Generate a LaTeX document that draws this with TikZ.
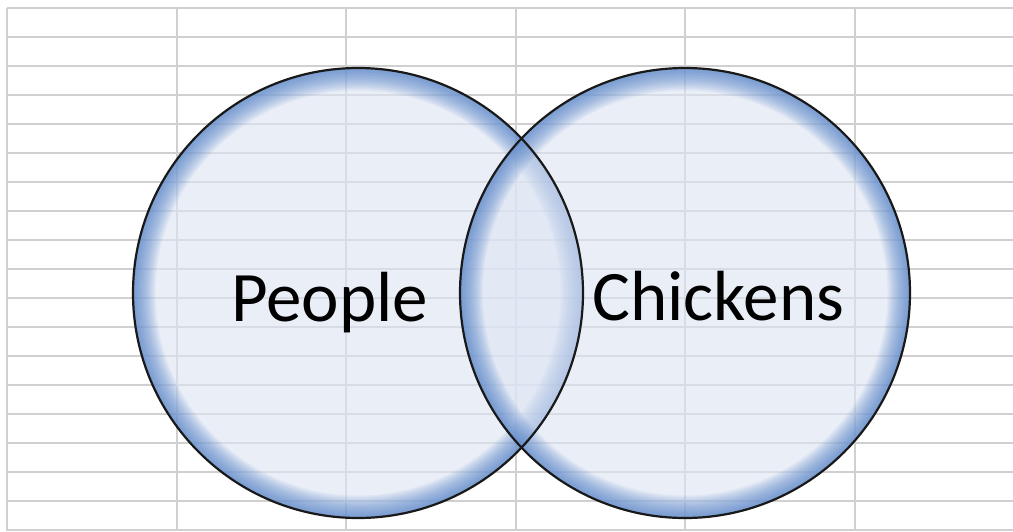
\documentclass[tikz,border=0pt]{standalone}
\usepackage{fontspec}
\setmainfont{Carlito}
\definecolor{gridgray}{HTML}{D0D0D0}
\definecolor{vfill}{HTML}{DDE4F3}
\definecolor{vglow}{HTML}{4A7CC6}
\tikzset{
  gridline/.style={draw=gridgray, line width=2pt},
  vennfill/.style={fill=vfill, fill opacity=0.6},
  vennedge/.style={draw=black!90, line width=2.2pt},
  vlabel/.style={inner sep=0pt, anchor=base west, font=\fontsize{71}{71}\selectfont}
}
\begin{document}
\begin{tikzpicture}[x=1pt,y=-1pt]
\useasboundingbox (0,0) rectangle (1013,531);
\fill[white] (0,0) rectangle (1013,531);
% grid
\foreach \k in {0,...,18} {\draw[gridline] (7,8+29*\k) -- (1013,8+29*\k);}
\foreach \xx in {7,176.5,346,515.5,685,854.5} {\draw[gridline] (\xx,8) -- (\xx,531);}
% circles
\coordinate (cL) at (358,293);
\coordinate (cR) at (685,293);
\foreach \c in {cL,cR} {
  \fill[vennfill] (\c) circle (225);
  \begin{scope}
    \clip (\c) circle (225);
    \foreach \w in {3,6,...,45} {\draw[vglow, draw opacity=0.07, line width=\w pt] (\c) circle (225);}
  \end{scope}
}
\draw[vennedge] (cL) circle (225);
\draw[vennedge] (cR) circle (225);
\node[vlabel] (people) at (231,321) {People};
\node[vlabel] (chickens) at (592,320) {Chickens};
\end{tikzpicture}
\end{document}
